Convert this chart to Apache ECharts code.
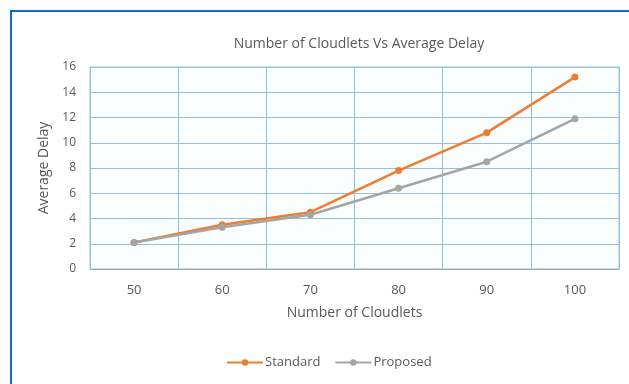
<!DOCTYPE html>
<html><head><meta charset="utf-8">
<script src="https://cdn.jsdelivr.net/npm/echarts@6/dist/echarts.min.js"></script>
<style>
html,body{margin:0;padding:0;background:#fff;}
#frame{position:absolute;left:10px;top:10px;width:640px;height:400px;border-top:2px solid #0a6fc7;border-left:2px solid #0a6fc7;box-sizing:border-box;}
#c{position:absolute;left:0;top:0;width:629px;height:384px;}
</style></head>
<body>
<div id="frame"></div>
<div id="c"></div>
<script>
const categories = ['50','60','70','80','90','100'];
const standard = [2.1, 3.5, 4.5, 7.8, 10.8, 15.2];
const proposed = [2.1, 3.3, 4.3, 6.4, 8.5, 11.9];
const yTicks = {min:0, max:16, interval:2};

const chart = echarts.init(document.getElementById('c'), null, {renderer:'canvas'});
const fontFam = '"Open Sans", Lato, sans-serif';
const grid = '#95c1d6';
chart.setOption({
  animation:false,
  backgroundColor:'transparent',
  title:{text:'Number of Cloudlets Vs Average Delay', left:354, top:32, textAlign:'center',
    textStyle:{fontFamily:fontFam, fontSize:14, fontWeight:'normal', color:'#595959'}},
  legend:{top:351, left:221, itemGap:14, itemWidth:36, itemHeight:8,
    textStyle:{fontFamily:fontFam, fontSize:13, color:'#595959', padding:[0,0,0,-3]},
    data:['Standard','Proposed']},
  grid:{left:90, right:10, top:67, bottom:115, show:true, borderColor:grid, borderWidth:1, backgroundColor:'#fbfeff'},
  xAxis:{type:'category', data:categories, boundaryGap:true,
    name:'Number of Cloudlets', nameLocation:'middle', nameGap:37,
    nameTextStyle:{fontFamily:fontFam, fontSize:14, color:'#595959'},
    axisLine:{lineStyle:{color:'#a6a6a6', width:1}}, axisTick:{show:false},
    axisLabel:{fontFamily:fontFam, fontSize:13, color:'#595959', margin:15},
    splitLine:{show:true, lineStyle:{color:grid, width:1}}},
  yAxis:{type:'value', min:yTicks.min, max:yTicks.max, interval:yTicks.interval,
    name:'Average Delay', nameLocation:'middle', nameGap:37,
    nameTextStyle:{fontFamily:fontFam, fontSize:14, color:'#595959'},
    axisLine:{show:false}, axisTick:{show:false},
    axisLabel:{fontFamily:fontFam, fontSize:12, color:'#595959', margin:14},
    splitLine:{lineStyle:{color:grid, width:1}}},
  series:[
    {name:'Standard', type:'line', data:standard, symbol:'circle', symbolSize:7,
     lineStyle:{color:'#ed7d31', width:2.5}, itemStyle:{color:'#ed7d31'}},
    {name:'Proposed', type:'line', data:proposed, symbol:'circle', symbolSize:7,
     lineStyle:{color:'#a5a5a5', width:2.5}, itemStyle:{color:'#a5a5a5'}}
  ]
});
</script>
</body></html>
